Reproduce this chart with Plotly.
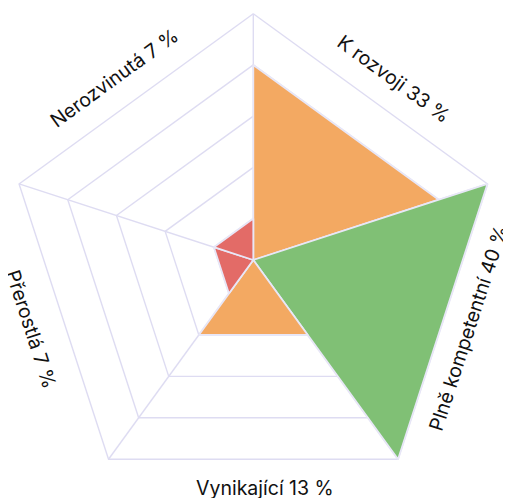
import math
import plotly.graph_objects as go

# ---- data ----
categories = ["K rozvoji", "Plně kompetentní", "Vynikající", "Přerostlá", "Nerozvinutá"]
percents = [33, 40, 13, 7, 7]
levels = [4, 5, 2, 1, 1]          # radial level of each wedge on the 1..5 grid rings
colors = ["#f3a962", "#80c075", "#f3a962", "#e36b67", "#e36b67"]
ring_levels = [1, 2, 3, 4, 5]

# ---- scale (pixel-like units) ----
RMIN = 0.19          # radial value sitting at the centre
UNIT = 51.2          # px per ring step
spoke_angles = [90 - 72 * i for i in range(5)]  # clockwise from top


def rad(v):
    return (v - RMIN) * UNIT


def pt(v, ang):
    a = math.radians(ang)
    return rad(v) * math.cos(a), rad(v) * math.sin(a)


GRID = "#dedcf2"
fig = go.Figure()

# grid rings
for lv in ring_levels:
    xs, ys = [], []
    for a in spoke_angles + [spoke_angles[0]]:
        x, y = pt(lv, a)
        xs.append(x)
        ys.append(y)
    fig.add_trace(go.Scatter(x=xs, y=ys, mode="lines",
                             line=dict(color=GRID, width=1.4),
                             hoverinfo="skip", showlegend=False))
# spokes
for a in spoke_angles:
    x0, y0 = pt(RMIN, a)
    x1, y1 = pt(ring_levels[-1], a)
    fig.add_trace(go.Scatter(x=[x0, x1], y=[y0, y1], mode="lines",
                             line=dict(color=GRID, width=1.4),
                             hoverinfo="skip", showlegend=False))

# wedges
for i, (cat, lv, col) in enumerate(zip(categories, levels, colors)):
    a1 = spoke_angles[i]
    a2 = spoke_angles[(i + 1) % 5]
    c = pt(RMIN, a1)
    p1 = pt(lv, a1)
    p2 = pt(lv, a2)
    fig.add_trace(go.Scatter(x=[c[0], p1[0], p2[0], c[0]],
                             y=[c[1], p1[1], p2[1], c[1]],
                             mode="lines", fill="toself", fillcolor=col,
                             line=dict(color="#e8e7f7", width=1.8),
                             name=cat, hoverinfo="name", showlegend=False))

# labels (centre positions in axis units, and rotation)
label_pos = [(140.7, 181), (215, -68), (12, -227.5), (-222, -69), (-139.3, 182)]
label_rot = [36, -72, 0, 72, -36]
for cat, p, (lx, ly), rot in zip(categories, percents, label_pos, label_rot):
    fig.add_annotation(x=lx, y=ly, xref="x", yref="y", text=f"{cat} {p} %",
                       showarrow=False, textangle=rot,
                       xanchor="center", yanchor="middle",
                       font=dict(family="Inter", size=19.5, color="#111111"))

# page body has an 8px margin: the figure starts at (8, 8) in the window
OFF = 8
CX, CY = 253.3 - OFF, 260 - OFF
W, H = 511 - OFF, 498 - OFF
fig.update_layout(
    width=W, height=H,
    margin=dict(l=0, r=0, t=0, b=0),
    paper_bgcolor="white", plot_bgcolor="white",
    xaxis=dict(range=[-CX, W - CX], visible=False, fixedrange=True),
    yaxis=dict(range=[-(H - CY), CY], visible=False, fixedrange=True),
)

fig.write_html("out.html")
